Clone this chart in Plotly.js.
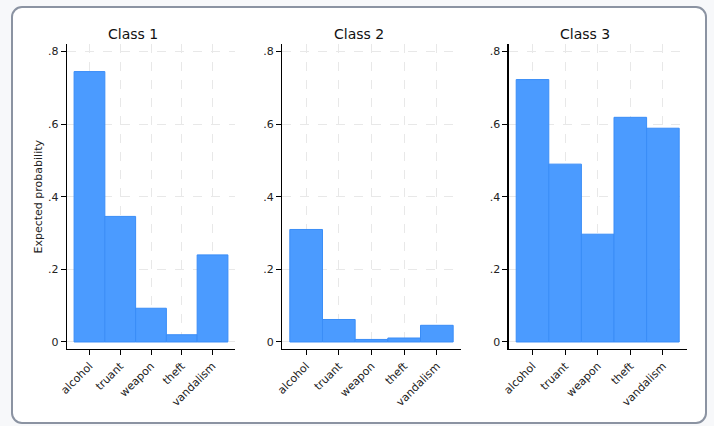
<!DOCTYPE html>
<html>
<head>
<meta charset="utf-8">
<script src="https://cdn.plot.ly/plotly-3.0.1.min.js"></script>
<style>
  html, body { margin: 0; padding: 0; width: 714px; height: 426px; overflow: hidden; background: #f7f8fa; }
  #frame { position: absolute; left: 11px; top: 6px; width: 692px; height: 414px; border: 2px solid #8b93a2; border-radius: 11px; background: #ffffff; }
  #chart { position: absolute; left: 0; top: 0; width: 714px; height: 426px; }
</style>
</head>
<body>
<div id="frame"></div>
<div id="chart"></div>
<script>
const categories = ["alcohol", "truant", "weapon", "theft", "vandalism"];
const class1 = [0.745, 0.346, 0.093, 0.020, 0.240];
const class2 = [0.310, 0.062, 0.007, 0.011, 0.046];
const class3 = [0.723, 0.490, 0.297, 0.619, 0.589];
const panelTitles = ["Class 1", "Class 2", "Class 3"];
const yTickVals = [0, 0.2, 0.4, 0.6, 0.8];
const yTickText = ["0", ".2", ".4", ".6", ".8"];
const yTitle = "Expected probability";

const series = [class1, class2, class3];
const FONT = "DejaVu Sans, sans-serif";
const W = 714, H = 426;

const xDomains = [[67/W, 235/W], [282.3/W, 460.7/W], [508.7/W, 686.7/W]];
const yDomain = [1 - 349/H, 1 - 44/H];
const titleX = [133, 359, 585];

const traces = series.map((vals, i) => ({
  type: "bar",
  x: categories,
  y: vals,
  xaxis: i === 0 ? "x" : "x" + (i + 1),
  yaxis: i === 0 ? "y" : "y" + (i + 1),
  marker: { color: "#4b9bff", line: { color: "#3a8df7", width: 1 } },
  hoverinfo: "skip",
  showlegend: false
}));

const layout = {
  width: W, height: H, autosize: false,
  margin: { l: 0, r: 0, t: 0, b: 0 },
  paper_bgcolor: "rgba(0,0,0,0)",
  plot_bgcolor: "rgba(0,0,0,0)",
  bargap: 0,
  font: { family: FONT, size: 11, color: "#222" },
  annotations: []
};

for (let i = 0; i < 3; i++) {
  const xs = i === 0 ? "xaxis" : "xaxis" + (i + 1);
  const ys = i === 0 ? "yaxis" : "yaxis" + (i + 1);
  const yref = i === 0 ? "y" : "y" + (i + 1);
  const xref = i === 0 ? "x" : "x" + (i + 1);
  layout[xs] = {
    domain: xDomains[i], anchor: yref,
    type: "category",
    range: [-0.73, 4.73],
    showline: true, linecolor: "#000", linewidth: 1.3,
    ticks: "outside", ticklen: 5, tickcolor: "#000", tickwidth: 1,
    tickangle: -45,
    tickfont: { family: FONT, size: 11, color: "#222" },
    showgrid: true, gridcolor: "#e8e8e8", gridwidth: 1, griddash: "dash",
    zeroline: false, fixedrange: true
  };
  layout[ys] = {
    domain: yDomain, anchor: xref,
    range: [-0.0193, 0.821],
    tickvals: yTickVals, ticktext: yTickText,
    showline: true, linecolor: "#000", linewidth: 1.3,
    ticks: "outside", ticklen: 5, tickcolor: "#000", tickwidth: 1,
    tickfont: { family: FONT, size: 11, color: "#222" },
    showgrid: true, gridcolor: "#e8e8e8", gridwidth: 1, griddash: "dash",
    zeroline: false, fixedrange: true
  };
  layout.annotations.push({
    text: panelTitles[i], xref: "paper", yref: "paper",
    x: titleX[i] / W, y: 1 - 34 / H, xanchor: "center", yanchor: "middle",
    showarrow: false, font: { family: FONT, size: 14, color: "#111" }
  });
}
layout.annotations.push({
  text: yTitle, xref: "paper", yref: "paper",
  x: 38 / W, y: 1 - 196.5 / H, xanchor: "center", yanchor: "middle",
  textangle: -90, showarrow: false, font: { family: FONT, size: 11, color: "#222" }
});

Plotly.newPlot("chart", traces, layout, { staticPlot: true, displayModeBar: false });
</script>
</body>
</html>
